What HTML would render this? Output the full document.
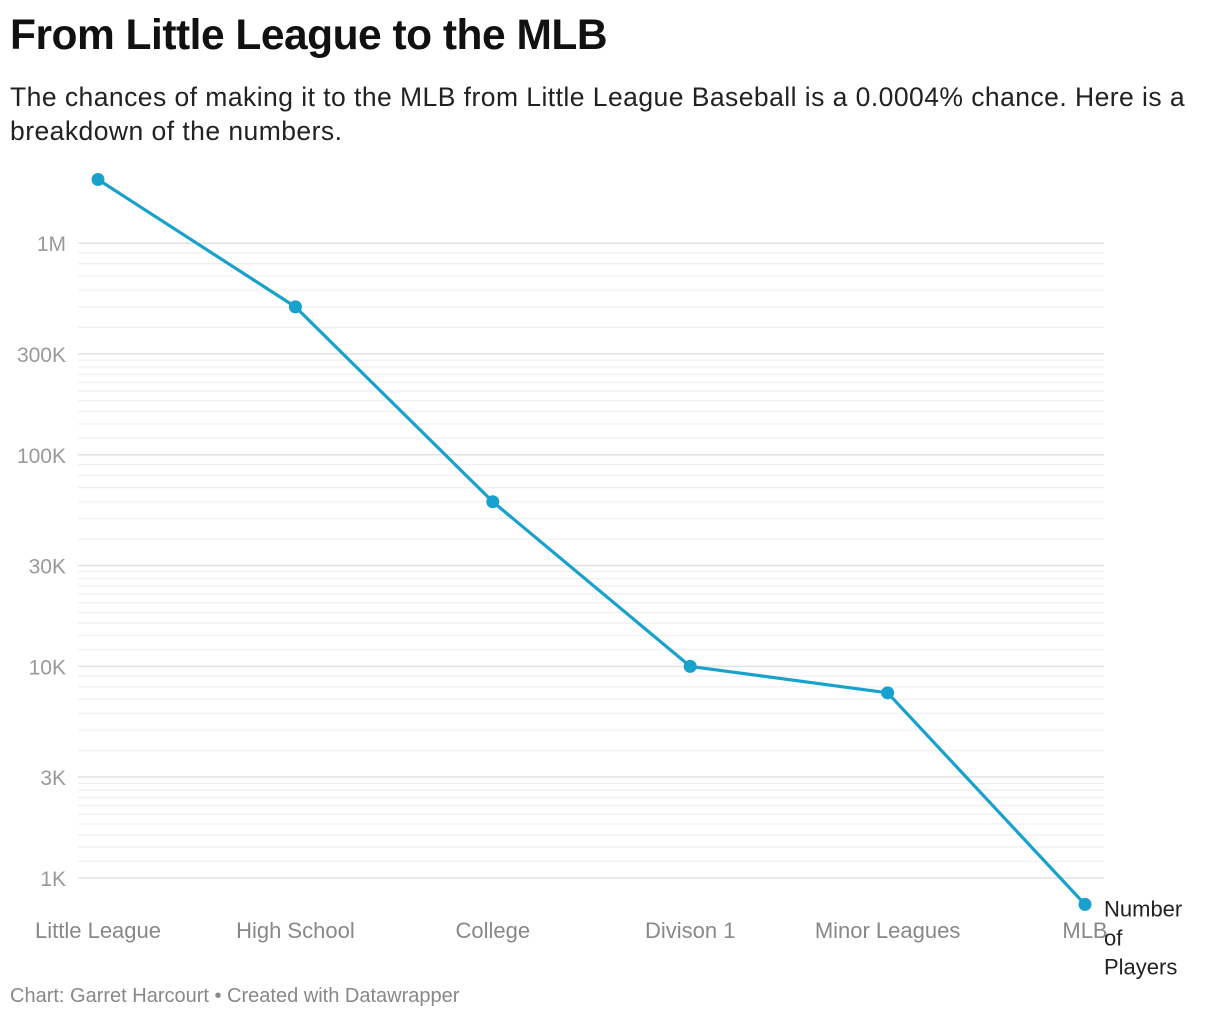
<!DOCTYPE html>
<html><head><meta charset="utf-8">
<style>
body{margin:0;background:#fff;font-family:"Liberation Sans",sans-serif;}
#wrap{position:relative;width:1220px;height:1020px;overflow:hidden}
h1{position:absolute;left:10px;top:12px;margin:0;font-size:42.5px;font-weight:bold;color:#111;letter-spacing:-0.5px}
.sub{position:absolute;left:10px;top:80px;margin:0;font-size:26.5px;letter-spacing:0.45px;line-height:34px;color:#222;width:1205px}
.foot{position:absolute;left:10px;top:985px;font-size:20px;color:#888}
svg{position:absolute;left:0;top:0}
</style></head><body>
<div id="wrap">
<h1>From Little League to the MLB</h1>
<p class="sub">The chances of making it to the MLB from Little League Baseball is a 0.0004% chance. Here is a breakdown of the numbers.</p>
<svg id="chart" width="1220" height="1020"></svg>
<div class="foot">Chart: Garret Harcourt • Created with Datawrapper</div>
</div>
<script>
const categories=["Little League","High School","College","Divison 1","Minor Leagues","MLB"];
const values=[2000000,500000,60000,10000,7500,750];
const tickValues=[1000000,300000,100000,30000,10000,3000,1000];
const tickLabels=["1M","300K","100K","30K","10K","3K","1K"];
const NS="http://www.w3.org/2000/svg";
const svg=document.getElementById('chart');
const y=v=>878-(Math.log10(v)-3)*211.6;
const x=i=>98+i*197.4;
function mk(t,a){const e=document.createElementNS(NS,t);for(const k in a)e.setAttribute(k,a[k]);svg.appendChild(e);return e;}
for(let d=3;d<6;d++){const b=Math.pow(10,d);
 const ms=[1.2,1.4,1.6,1.8,2,2.2,2.4,2.6,2.8,4,5,6,7,8,9];
 ms.forEach(m=>{const v=m*b;
 const l=mk('line',{x1:78,x2:1104,y1:y(v),y2:y(v),stroke:'#f0f0f0','stroke-width':1.3});
 
 });}
tickValues.forEach((v,i)=>{
 const l=mk('line',{x1:78,x2:1104,y1:y(v),y2:y(v),stroke:'#e2e2e2','stroke-width':1.5});
 
 
 const t=mk('text',{x:66,y:y(v)+8,'text-anchor':'end','font-size':21,fill:'#999','font-family':'Liberation Sans, sans-serif'});
 t.textContent=tickLabels[i];
 
 
});
categories.forEach((c,i)=>{
 const t=mk('text',{x:x(i),y:938,'text-anchor':'middle','font-size':22,fill:'#888','font-family':'Liberation Sans, sans-serif'});
 t.textContent=c;
 
 
});
const p=mk('polyline',{points:values.map((v,i)=>x(i)+','+y(v)).join(' '),fill:'none',stroke:'#18a1cd','stroke-width':3.2,'stroke-linejoin':'round'});


values.forEach((v,i)=>{
 const c=mk('circle',{cx:x(i),cy:y(v),r:6.5,fill:'#18a1cd'});
 
 
});
["Number","of","Players"].forEach((s,i)=>{
 const t=mk('text',{x:1104,y:y(values[5])+12+i*29,'font-size':22,fill:'#222','font-family':'Liberation Sans, sans-serif'});
 t.textContent=s;
 
 
});
</script>
</body></html>
